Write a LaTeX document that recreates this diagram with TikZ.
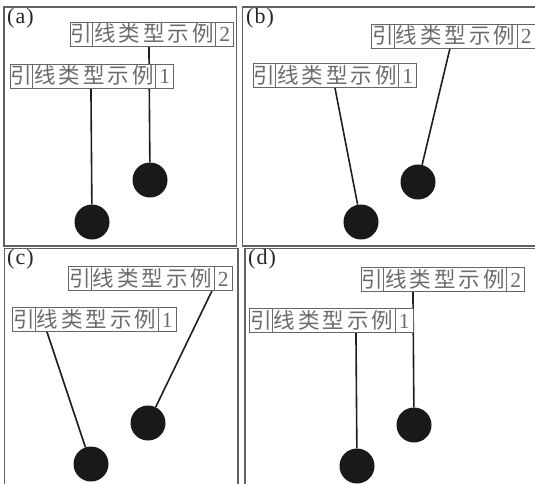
\documentclass[tikz,border=0pt]{standalone}
\usepackage{fontspec}
\setmainfont{Liberation Serif}
\newfontfamily\cjk{Noto Sans CJK SC}
\usetikzlibrary{backgrounds}
\newcommand{\lbltext}[1]{%
  \makebox[22pt]{\cjk{}引}\vrule width 0.7pt height 19.5pt depth 4.5pt%
  \makebox[122pt][s]{\hspace{1pt}\cjk{}线\hfill{}类\hfill{}型\hfill{}示\hfill{}例\hspace{1pt}}%
  \vrule width 0.7pt height 19.5pt depth 4.5pt\makebox[18pt]{#1}}
\tikzset{
  panel/.style={draw=black!62, line width=1.3pt},
  lbl/.style={draw=black!60, line width=0.7pt, fill=white, inner sep=0pt, text=black!58,
    font=\fontsize{21.5}{21.5}\selectfont},
  ball/.style={circle, fill=black!90, inner sep=0pt, minimum size=35pt},
  lead/.style={draw=black!88, line width=1.6pt},
  tag/.style={anchor=north west, inner sep=0pt, text=black!85, font=\fontsize{22}{22}\selectfont}
}
\begin{document}
\begin{tikzpicture}[x=1pt,y=-1pt]
\useasboundingbox (0,0) rectangle (535,483);
% panels
\draw[panel] (4,7) rectangle (236.5,246);
\draw[panel] (242.5,7) rectangle (545,246);
\draw[panel] (4.5,248.5) rectangle (238,495);
\draw[panel] (245,248.5) rectangle (545,495);
\node[tag] (ta) at (7,8) {(\kern1pt a\kern1pt)};
\node[tag] (tb) at (246,8) {(\kern1pt b\kern1pt)};
\node[tag] (tc) at (7,249) {(\kern1pt c\kern1pt)};
\node[tag] (td) at (248,249) {(\kern1pt d\kern1pt)};
% (a)
\node[lbl] (a2) at (152,34) {\lbltext{2}};
\node[lbl] (a1) at (92,76) {\lbltext{1}};
\node[ball] (ac2) at (150,180) {};
\node[ball] (ac1) at (92,222) {};
% (b)
\node[lbl] (b2) at (453.5,36) {\lbltext{2}};
\node[lbl] (b1) at (335,75.5) {\lbltext{1}};
\node[ball] (bc2) at (418,182) {};
\node[ball] (bc1) at (361,222) {};
% (c)
\node[lbl] (c2) at (150.5,278.5) {\lbltext{2}};
\node[lbl] (c1) at (94.5,319.5) {\lbltext{1}};
\node[ball] (cc2) at (148,423) {};
\node[ball] (cc1) at (91,464) {};
% (d)
\node[lbl] (d2) at (443,279.5) {\lbltext{2}};
\node[lbl] (d1) at (331.5,320.5) {\lbltext{1}};
\node[ball] (dc2) at (414,425) {};
\node[ball] (dc1) at (357,466) {};
\begin{pgfonlayer}{background}
\draw[lead] ([xshift=79pt]a2.south west) -- (ac2);
\draw[lead] ([xshift=81pt]a1.south west) -- (ac1);
\draw[lead] ([xshift=78.5pt]b2.south west) -- (bc2);
\draw[lead] ([xshift=82pt]b1.south west) -- (bc1);
\draw[lead] ([xshift=143.5pt]c2.south west) -- (cc2);
\draw[lead] ([xshift=34.5pt]c1.south west) -- (cc1);
\draw[lead] ([xshift=52pt]d2.south west) -- (dc2);
\draw[lead] ([xshift=106.5pt]d1.south west) -- (dc1);
\end{pgfonlayer}
\end{tikzpicture}
\end{document}
